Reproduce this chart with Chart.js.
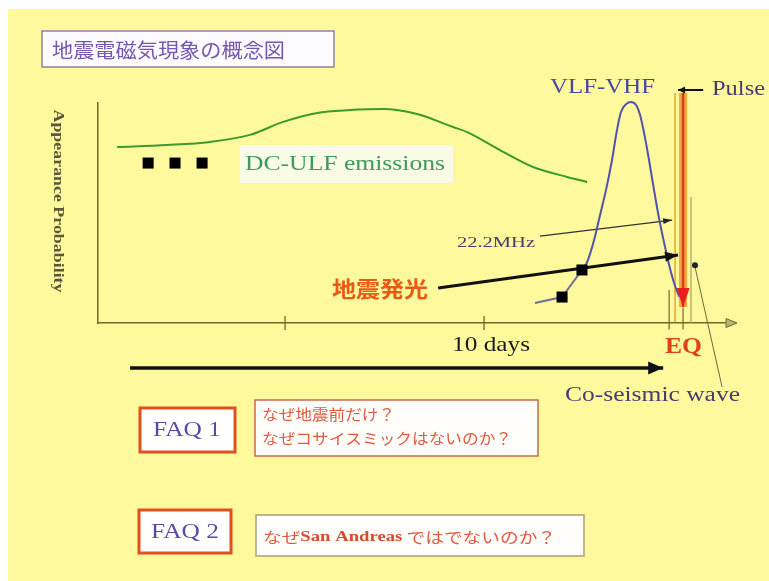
<!DOCTYPE html>
<html><head><meta charset="utf-8">
<script src="https://cdn.jsdelivr.net/npm/chart.js@4/dist/chart.umd.min.js"></script>
<style>html,body{margin:0;padding:0;background:#fff}canvas{display:block}</style>
</head><body>
<canvas id="c" width="769" height="581"></canvas>
<script>
// ---- values (x: days relative to EQ, y: appearance probability 0..1) ----
const xTickValues = [-20, -10];
const xTickLabels = ['', '10 days'];

const dculfX = [-28.44,-25.93,-23.77,-21.76,-20.10,-18.39,-16.73,-15.08,-13.37,-11.56,-10.85,-9.20,-7.54,-5.83,-4.82];
const dculfY = [0.800,0.809,0.823,0.855,0.914,0.955,0.968,0.973,0.950,0.891,0.868,0.786,0.709,0.664,0.641];

const dcSquaresX = [-26.88,-25.53,-24.17];
const dcSquaresY = [0.727,0.727,0.727];

const lowX = [-7.44,-6.08,-5.08];
const lowY = [0.091,0.118,0.241];
const lowSquaresX = [-6.08,-5.08];
const lowSquaresY = [0.118,0.241];

const vlfX = [-5.08,-4.82,-4.47,-4.17,-3.87,-3.57,-3.32,-3.12,-2.86,-2.61,-2.36,-2.16,-1.96,-1.71,-1.46,-1.21,-0.95,-0.70,-0.45,-0.20,0.10];
const vlfY = [0.241,0.277,0.377,0.491,0.605,0.741,0.877,0.959,0.995,1.005,0.991,0.945,0.864,0.741,0.605,0.477,0.364,0.264,0.182,0.123,0.086];

const lumX = [-12.31,-0.25];
const lumY = [0.159,0.309];
const mhzX = [-7.19,-0.55];
const mhzY = [0.395,0.468];

const pulseX = [0,0];
const pulseY = [1.045,0.073];
const pulseEdgeX = [-0.40,-0.40];
const pulseEdgeY = [1.045,0.005];
const pulseMarkX = [-0.25,1.01];
const pulseMarkY = [1.059,1.059];

const eqTickAX = [-0.70,-0.70]; const eqTickAY = [0.15,-0.03];
const eqTickBX = [0,0];         const eqTickBY = [0.07,-0.03];
const eqTickCX = [0.40,0.40];   const eqTickCY = [0.573,0];

const coseisX = [0.60,1.96];
const coseisY = [0.255,-0.291];
const coseisMarkX = [0.60];
const coseisMarkY = [0.262];

const timeArrowX = [-27.79,-1.0];
const timeArrowY = [-0.2045,-0.2045];

// ---- helpers ----
function pts(xs, ys){ return xs.map((x,i)=>({x:x, y:ys[i]})); }
function line(xs, ys, color, width, extra){
  return Object.assign({data:pts(xs,ys), showLine:true, borderColor:color, backgroundColor:color,
    borderWidth:width, pointRadius:0, fill:false, tension:0, clip:false}, extra||{});
}
function squares(xs, ys){
  return {data:pts(xs,ys), showLine:false, pointStyle:'rect', pointRadius:7.8,
    backgroundColor:'#000', borderColor:'#000', borderWidth:0, clip:false};
}
function fitText(ctx, text, x, y, w, font, color, align){
  ctx.save(); ctx.font = font; ctx.fillStyle = color; ctx.textBaseline = 'middle';
  ctx.textAlign = align || 'left';
  const m = ctx.measureText(text).width; const s = w / m;
  ctx.translate(x, y); ctx.scale(s, 1); ctx.fillText(text, 0, 0); ctx.restore();
}
function fitSegments(ctx, segs, x, y, w){
  ctx.save(); ctx.textBaseline = 'middle'; ctx.textAlign = 'left';
  let tot = 0; segs.forEach(s=>{ctx.font = s.font; s.w = ctx.measureText(s.t).width; tot += s.w;});
  const sc = w / tot; ctx.translate(x, y); ctx.scale(sc, 1);
  let cx = 0; segs.forEach(s=>{ctx.font = s.font; ctx.fillStyle = s.color; ctx.fillText(s.t, cx, 0); cx += s.w;});
  ctx.restore();
}
function box(ctx, x, y, w, h, fill, stroke, lw){
  ctx.save(); ctx.fillStyle = fill; ctx.fillRect(x, y, w, h);
  if (stroke){ ctx.strokeStyle = stroke; ctx.lineWidth = lw; ctx.strokeRect(x, y, w, h); }
  ctx.restore();
}
function head(ctx, a, b, o){
  const ang = Math.atan2(b.y - a.y, b.x - a.x);
  ctx.save(); ctx.translate(b.x, b.y); ctx.rotate(ang); ctx.beginPath();
  ctx.moveTo(0,0); ctx.lineTo(-o.len, -o.wid/2); ctx.lineTo(-o.len, o.wid/2); ctx.closePath();
  ctx.fillStyle = o.color; ctx.fill(); ctx.restore();
}

const SERIF = '"Liberation Serif", "Times New Roman", serif';
const CJK = '"Noto Sans CJK JP", sans-serif';
const AXIS = '#6e6a2c';

const bgPlugin = {id:'bg', beforeDraw(c){
  const x = c.ctx; x.save(); x.fillStyle = '#ffffff'; x.fillRect(0,0,c.width,c.height);
  x.fillStyle = '#fdf99c'; x.fillRect(8, 9, c.width - 8, c.height - 9); x.restore();
}};

const arrowPlugin = {id:'arrows', afterDatasetsDraw(c){
  const ctx = c.ctx;
  c.data.datasets.forEach((ds,i)=>{
    const p = c.getDatasetMeta(i).data; if (!p || p.length < 2) return;
    if (ds.arrowEnd) head(ctx, p[p.length-2], p[p.length-1], ds.arrowEnd);
    if (ds.arrowStart) head(ctx, p[1], p[0], ds.arrowStart);
  });
}};

const annoPlugin = {id:'anno', afterDatasetsDraw(c){
  const ctx = c.ctx; const xs = c.scales.x; const ys = c.scales.y;
  // x-axis arrowhead
  const ax = xs.right, ay = ys.bottom;
  ctx.save(); ctx.beginPath(); ctx.moveTo(ax+2, ay); ctx.lineTo(ax-9, ay-4.5); ctx.lineTo(ax-9, ay+4.5); ctx.closePath();
  ctx.fillStyle = '#b9b27a'; ctx.fill(); ctx.strokeStyle = AXIS; ctx.lineWidth = 1; ctx.stroke(); ctx.restore();
  // ticks + tick labels
  xTickValues.forEach((v,i)=>{
    const px = xs.getPixelForValue(v);
    ctx.save(); ctx.strokeStyle = AXIS; ctx.lineWidth = 1.3; ctx.beginPath();
    ctx.moveTo(px, ay - 7); ctx.lineTo(px, ay + 7); ctx.stroke(); ctx.restore();
    if (xTickLabels[i]) fitText(ctx, xTickLabels[i], px + 7, ay + 22, 78, '21px ' + SERIF, '#1a1a1a', 'center');
  });
  // y-axis title (rotated clockwise)
  ctx.save(); ctx.translate(58, 201); ctx.rotate(Math.PI/2);
  fitText(ctx, 'Appearance Probability', 0, 0, 183, 'bold 15px ' + SERIF, '#5a5838', 'center');
  ctx.restore();
  // title
  box(ctx, 42, 31, 292, 36, '#fcfbff', '#8f82a0', 1.5);
  fitText(ctx, '地震電磁気現象の概念図', 52, 50, 233, '20px ' + CJK, '#7656ae');
  // DC-ULF label
  box(ctx, 240, 145, 213, 38, '#fafbe6', null, 0);
  fitText(ctx, 'DC-ULF emissions', 245, 164, 200, '22px ' + SERIF, '#3d9a5e');
  fitText(ctx, 'VLF-VHF', 550, 88, 105, '20px ' + SERIF, '#4848a0');
  fitText(ctx, 'Pulse', 712, 90, 53, '20px ' + SERIF, '#4a3a70');
  fitText(ctx, '22.2MHz', 457, 243, 78, '14px ' + SERIF, '#4a3a70');
  fitText(ctx, '地震発光', 332, 289, 96, 'bold 22px ' + CJK, '#ea5a14');
  fitText(ctx, 'EQ', 665, 347, 37, 'bold 23px ' + SERIF, '#e0401a');
  fitText(ctx, 'Co-seismic wave', 565, 396, 175, '20px ' + SERIF, '#4a3a70');
  // FAQ 1
  box(ctx, 140, 408, 95, 44, '#ffffff', '#e0501e', 3);
  fitText(ctx, 'FAQ 1', 187, 430, 68, '22px ' + SERIF, '#5a4aa8', 'center');
  box(ctx, 255, 400, 283, 56, '#fffefa', '#c86a50', 1.5);
  fitText(ctx, 'なぜ地震前だけ？', 262, 414, 133, '15px ' + CJK, '#e05a40');
  fitText(ctx, 'なぜコサイスミックはないのか？', 262, 438, 250, '15px ' + CJK, '#e05a40');
  // FAQ 2
  box(ctx, 139, 510, 92, 43, '#ffffff', '#e0501e', 3);
  fitText(ctx, 'FAQ 2', 185, 532, 68, '22px ' + SERIF, '#5a4aa8', 'center');
  box(ctx, 256, 515, 328, 41, '#fffefa', '#a89e78', 1.5);
  fitSegments(ctx, [
    {t:'なぜ', font:'15px ' + CJK, color:'#e05a40'},
    {t:'San Andreas', font:'bold 15px ' + SERIF, color:'#d84a30'},
    {t:' ではでないのか？', font:'15px ' + CJK, color:'#e05a40'}
  ], 263, 537, 293);
}};

// datasets: first = drawn on top
const datasets = [
  line(timeArrowX, timeArrowY, '#111', 3.5, {arrowEnd:{len:15, wid:13, color:'#111'}}),
  line(pulseMarkX, pulseMarkY, '#111', 2, {arrowStart:{len:7, wid:7, color:'#111'}}),
  line(pulseX, pulseY, '#d8401c', 2.5, {arrowEnd:{len:19, wid:13, color:'#ee1c1c'}}),
  line(pulseX, pulseY, '#f2a53c', 8),
  squares(lowSquaresX, lowSquaresY),
  line(lumX, lumY, '#111', 3, {arrowEnd:{len:13, wid:10, color:'#111'}}),
  {data:pts(coseisMarkX, coseisMarkY), showLine:false, pointStyle:'circle', pointRadius:3, backgroundColor:'#222', borderWidth:0, clip:false},
  line(vlfX, vlfY, '#5252ae', 2, {cubicInterpolationMode:'monotone'}),
  line(lowX, lowY, '#70709a', 2),
  line(coseisX, coseisY, '#6e6a3c', 1),
  line(mhzX, mhzY, '#333', 1.2, {arrowEnd:{len:9, wid:6, color:'#222'}}),
  squares(dcSquaresX, dcSquaresY),
  line(dculfX, dculfY, '#3c9a2c', 2, {cubicInterpolationMode:'monotone'}),
  line(pulseEdgeX, pulseEdgeY, '#eab448', 1.8),
  line(eqTickCX, eqTickCY, '#a8a060', 1.2),
  line(eqTickBX, eqTickBY, AXIS, 1.2),
  line(eqTickAX, eqTickAY, AXIS, 1.2)
];

new Chart(document.getElementById('c'), {
  type: 'scatter',
  data: {datasets: datasets},
  options: {
    responsive: false, animation: false, events: [],
    layout: {padding: {left: 98, right: 34, top: 103, bottom: 258}},
    plugins: {legend: {display: false}, tooltip: {enabled: false}},
    scales: {
      x: {type:'linear', min:-29.40, max:2.61, position:'bottom',
          afterBuildTicks: s => { s.ticks = xTickValues.map(v => ({value: v})); },
          afterFit: s => { s.height = 0; },
          ticks: {display: false}, grid: {display: false},
          border: {display: true, color: AXIS, width: 1.5}},
      y: {type:'linear', min:0, max:1, position:'left',
          afterFit: s => { s.width = 0; },
          ticks: {display: false}, grid: {display: false},
          border: {display: true, color: AXIS, width: 1.5}}
    }
  },
  plugins: [bgPlugin, arrowPlugin, annoPlugin]
});
</script>
</body></html>
